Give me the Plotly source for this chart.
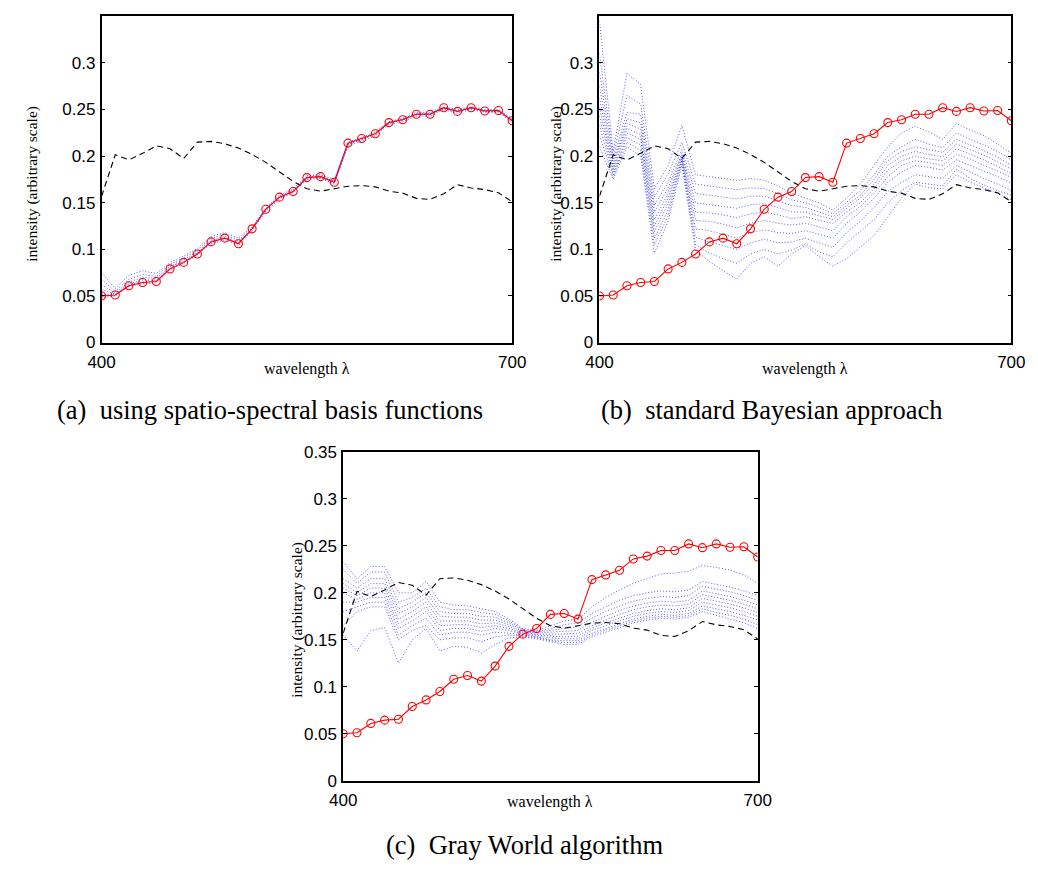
import plotly.graph_objects as go

# ---------------- data ----------------
wavelength = list(range(400, 701, 10))

true_reflectance = [0.050, 0.051, 0.061, 0.0645, 0.0655, 0.079, 0.086, 0.095, 0.108, 0.112,
                    0.106, 0.122, 0.143, 0.156, 0.162, 0.177, 0.178, 0.172, 0.214, 0.219,
                    0.224, 0.236, 0.239, 0.245, 0.245, 0.252, 0.248, 0.252, 0.2485, 0.249, 0.238]

illuminant = [0.157, 0.2015, 0.196, 0.203, 0.211, 0.208, 0.1975, 0.215, 0.2158, 0.2133,
              0.2087, 0.2018, 0.1933, 0.1834, 0.1729, 0.165, 0.1624, 0.165, 0.1677, 0.1684,
              0.167, 0.1624, 0.1603, 0.1547, 0.1536, 0.1596, 0.1694, 0.1659, 0.1641, 0.1607, 0.151]

# (a) spatio-spectral basis estimates, one list per estimate
est_a = [
    [0.075, 0.058, 0.072, 0.077, 0.074, 0.086, 0.093, 0.101, 0.114, 0.118, 0.112, 0.124, 0.145, 0.158, 0.165, 0.179,
     0.180, 0.175, 0.215, 0.220, 0.226, 0.237, 0.241, 0.247, 0.247, 0.253, 0.250, 0.253, 0.250, 0.250, 0.240],
    [0.068, 0.055, 0.068, 0.073, 0.071, 0.084, 0.091, 0.099, 0.112, 0.116, 0.110, 0.123, 0.144, 0.157, 0.164, 0.178,
     0.179, 0.174, 0.214, 0.219, 0.225, 0.236, 0.240, 0.246, 0.246, 0.252, 0.249, 0.252, 0.249, 0.249, 0.239],
    [0.062, 0.053, 0.065, 0.070, 0.069, 0.082, 0.089, 0.097, 0.110, 0.114, 0.108, 0.122, 0.143, 0.156, 0.163, 0.177,
     0.178, 0.173, 0.213, 0.218, 0.224, 0.235, 0.239, 0.245, 0.245, 0.251, 0.248, 0.251, 0.248, 0.248, 0.238],
    [0.057, 0.052, 0.063, 0.067, 0.067, 0.081, 0.087, 0.096, 0.109, 0.113, 0.107, 0.122, 0.143, 0.156, 0.162, 0.177,
     0.178, 0.172, 0.213, 0.218, 0.224, 0.236, 0.239, 0.245, 0.245, 0.252, 0.248, 0.252, 0.249, 0.249, 0.238],
    [0.052, 0.051, 0.062, 0.065, 0.066, 0.080, 0.086, 0.095, 0.108, 0.112, 0.106, 0.122, 0.143, 0.155, 0.162, 0.176,
     0.177, 0.171, 0.213, 0.218, 0.224, 0.236, 0.239, 0.245, 0.245, 0.251, 0.248, 0.251, 0.248, 0.248, 0.238],
    [0.048, 0.050, 0.060, 0.063, 0.064, 0.078, 0.085, 0.094, 0.106, 0.110, 0.104, 0.120, 0.141, 0.154, 0.161, 0.175,
     0.176, 0.170, 0.211, 0.216, 0.222, 0.234, 0.237, 0.243, 0.243, 0.250, 0.246, 0.250, 0.247, 0.247, 0.236],
]

# (b) standard Bayesian estimates, one row per wavelength (10 estimates each)
est_b_rows = [
    [0.345, 0.31, 0.29, 0.275, 0.262, 0.252, 0.243, 0.233, 0.222, 0.21],
    [0.205, 0.2, 0.196, 0.192, 0.189, 0.186, 0.183, 0.18, 0.178, 0.175],
    [0.289, 0.265, 0.247, 0.24, 0.235, 0.23, 0.225, 0.22, 0.215, 0.21],
    [0.277, 0.256, 0.245, 0.236, 0.229, 0.223, 0.218, 0.212, 0.206, 0.2],
    [0.165, 0.156, 0.147, 0.14, 0.132, 0.125, 0.119, 0.112, 0.105, 0.096],
    [0.19, 0.181, 0.172, 0.166, 0.16, 0.155, 0.149, 0.142, 0.136, 0.13],
    [0.233, 0.215, 0.207, 0.203, 0.201, 0.199, 0.197, 0.196, 0.194, 0.19],
    [0.18, 0.17, 0.16, 0.15, 0.14, 0.131, 0.122, 0.113, 0.105, 0.099],
    [0.178, 0.168, 0.158, 0.148, 0.139, 0.13, 0.12, 0.108, 0.096, 0.087],
    [0.176, 0.166, 0.156, 0.146, 0.137, 0.127, 0.116, 0.104, 0.09, 0.077],
    [0.174, 0.164, 0.154, 0.144, 0.134, 0.123, 0.112, 0.1, 0.085, 0.068],
    [0.176, 0.166, 0.157, 0.148, 0.138, 0.128, 0.118, 0.107, 0.095, 0.085],
    [0.174, 0.165, 0.157, 0.149, 0.14, 0.131, 0.121, 0.111, 0.1, 0.092],
    [0.168, 0.16, 0.152, 0.145, 0.137, 0.128, 0.118, 0.107, 0.095, 0.082],
    [0.16, 0.153, 0.147, 0.14, 0.133, 0.126, 0.117, 0.108, 0.099, 0.095],
    [0.155, 0.15, 0.145, 0.14, 0.135, 0.128, 0.12, 0.112, 0.106, 0.104],
    [0.15, 0.145, 0.14, 0.136, 0.131, 0.124, 0.116, 0.107, 0.097, 0.092],
    [0.142, 0.138, 0.135, 0.132, 0.128, 0.12, 0.112, 0.102, 0.092, 0.082],
    [0.155, 0.15, 0.147, 0.144, 0.14, 0.135, 0.128, 0.118, 0.107, 0.09],
    [0.17, 0.163, 0.158, 0.155, 0.15, 0.146, 0.14, 0.13, 0.12, 0.102],
    [0.19, 0.18, 0.175, 0.17, 0.165, 0.16, 0.155, 0.145, 0.132, 0.115],
    [0.21, 0.2, 0.195, 0.19, 0.185, 0.178, 0.172, 0.162, 0.15, 0.135],
    [0.225, 0.21, 0.205, 0.2, 0.195, 0.19, 0.183, 0.172, 0.163, 0.155],
    [0.232, 0.218, 0.21, 0.205, 0.2, 0.195, 0.19, 0.18, 0.172, 0.17],
    [0.226, 0.213, 0.207, 0.202, 0.197, 0.193, 0.188, 0.178, 0.17, 0.166],
    [0.218, 0.209, 0.204, 0.199, 0.195, 0.19, 0.185, 0.176, 0.168, 0.165],
    [0.235, 0.225, 0.218, 0.213, 0.208, 0.202, 0.196, 0.19, 0.186, 0.18],
    [0.228, 0.218, 0.212, 0.207, 0.202, 0.197, 0.19, 0.183, 0.176, 0.172],
    [0.222, 0.212, 0.206, 0.201, 0.196, 0.19, 0.184, 0.176, 0.169, 0.166],
    [0.213, 0.205, 0.199, 0.194, 0.189, 0.184, 0.178, 0.17, 0.163, 0.16],
    [0.203, 0.196, 0.19, 0.186, 0.181, 0.177, 0.171, 0.163, 0.158, 0.153],
]

# (c) Gray World estimates, one row per wavelength (10 estimates each)
est_c_rows = [
    [0.233, 0.225, 0.215, 0.21, 0.205, 0.2, 0.19, 0.18, 0.165, 0.155],
    [0.215, 0.21, 0.205, 0.2, 0.197, 0.193, 0.19, 0.185, 0.18, 0.138],
    [0.228, 0.222, 0.215, 0.21, 0.205, 0.2, 0.195, 0.19, 0.185, 0.16],
    [0.228, 0.222, 0.215, 0.21, 0.205, 0.2, 0.195, 0.19, 0.185, 0.163],
    [0.2, 0.19, 0.183, 0.178, 0.172, 0.167, 0.162, 0.155, 0.15, 0.125],
    [0.2, 0.195, 0.19, 0.185, 0.18, 0.175, 0.17, 0.165, 0.16, 0.15],
    [0.212, 0.205, 0.2, 0.195, 0.19, 0.185, 0.18, 0.173, 0.165, 0.162],
    [0.19, 0.185, 0.18, 0.175, 0.17, 0.165, 0.16, 0.155, 0.15, 0.138],
    [0.187, 0.182, 0.178, 0.174, 0.17, 0.166, 0.162, 0.158, 0.152, 0.143],
    [0.186, 0.182, 0.178, 0.174, 0.17, 0.166, 0.162, 0.158, 0.152, 0.142],
    [0.183, 0.179, 0.175, 0.171, 0.167, 0.163, 0.159, 0.155, 0.148, 0.136],
    [0.18, 0.177, 0.174, 0.171, 0.168, 0.165, 0.162, 0.158, 0.153, 0.145],
    [0.172, 0.17, 0.168, 0.166, 0.164, 0.162, 0.16, 0.157, 0.155, 0.152],
    [0.162, 0.161, 0.16, 0.159, 0.158, 0.157, 0.156, 0.155, 0.154, 0.153],
    [0.16, 0.159, 0.158, 0.157, 0.156, 0.155, 0.154, 0.153, 0.152, 0.151],
    [0.165, 0.162, 0.16, 0.158, 0.156, 0.154, 0.152, 0.15, 0.149, 0.148],
    [0.17, 0.166, 0.162, 0.159, 0.156, 0.153, 0.151, 0.149, 0.147, 0.145],
    [0.172, 0.168, 0.164, 0.16, 0.157, 0.154, 0.151, 0.149, 0.147, 0.145],
    [0.185, 0.178, 0.173, 0.169, 0.165, 0.162, 0.16, 0.157, 0.155, 0.153],
    [0.195, 0.185, 0.18, 0.175, 0.171, 0.168, 0.165, 0.162, 0.16, 0.158],
    [0.203, 0.192, 0.186, 0.181, 0.177, 0.173, 0.17, 0.167, 0.165, 0.163],
    [0.21, 0.197, 0.191, 0.186, 0.182, 0.178, 0.175, 0.172, 0.17, 0.168],
    [0.215, 0.2, 0.194, 0.189, 0.185, 0.181, 0.178, 0.175, 0.173, 0.171],
    [0.22, 0.202, 0.196, 0.191, 0.187, 0.183, 0.18, 0.177, 0.175, 0.173],
    [0.221, 0.201, 0.195, 0.19, 0.186, 0.182, 0.179, 0.176, 0.174, 0.172],
    [0.223, 0.203, 0.197, 0.192, 0.188, 0.184, 0.181, 0.178, 0.176, 0.174],
    [0.229, 0.212, 0.207, 0.202, 0.198, 0.194, 0.19, 0.186, 0.183, 0.18],
    [0.227, 0.209, 0.204, 0.199, 0.195, 0.191, 0.187, 0.183, 0.179, 0.176],
    [0.224, 0.206, 0.201, 0.196, 0.192, 0.188, 0.184, 0.18, 0.176, 0.172],
    [0.219, 0.202, 0.197, 0.192, 0.188, 0.184, 0.18, 0.176, 0.172, 0.168],
    [0.21, 0.197, 0.192, 0.187, 0.183, 0.179, 0.175, 0.171, 0.166, 0.162],
]

y_ticks_ab = [0, 0.05, 0.1, 0.15, 0.2, 0.25, 0.3]
y_ticks_c = [0, 0.05, 0.1, 0.15, 0.2, 0.25, 0.3, 0.35]
x_ticks = [400, 700]
captions = ["(a)\u00a0\u00a0using spatio-spectral basis functions",
            "(b)\u00a0\u00a0standard Bayesian approach",
            "(c)\u00a0\u00a0Gray World algorithm"]
y_title = "intensity (arbitrary scale)"
x_title = "wavelength \u03bb"

# ---------------- figure ----------------
W, H = 1038, 869
SERIF = "Liberation Serif, Times New Roman, serif"
SANS = "Liberation Sans, Arial, sans-serif"

est_b = [list(col) for col in zip(*est_b_rows)]
est_c = [list(col) for col in zip(*est_c_rows)]

# pixel boxes: left, right, top, bottom
boxes = [(90, 512, 7.5, 341), (601.7, 1025, 7.5, 341), (338.3, 764.3, 452.7, 789)]
ytitle_x = [19, 557.5, 291.5]
xtitle_y = [368, 368, 811]
panels = [("x", "y", est_a, y_ticks_ab), ("x2", "y2", est_b, y_ticks_ab), ("x3", "y3", est_c, y_ticks_c)]

fig = go.Figure()
for xa, ya, est, _ in panels:
    for s in est:
        fig.add_trace(go.Scatter(x=wavelength, y=s, mode="lines", xaxis=xa, yaxis=ya,
                                 line=dict(color="rgba(20,20,255,0.7)", width=1, dash="1px,2px"),
                                 showlegend=False, hoverinfo="skip"))
    fig.add_trace(go.Scatter(x=wavelength, y=illuminant, mode="lines", xaxis=xa, yaxis=ya,
                             line=dict(color="black", width=1.1, dash="6px,4px"),
                             showlegend=False, hoverinfo="skip"))
    fig.add_trace(go.Scatter(x=wavelength, y=true_reflectance, mode="lines+markers", xaxis=xa, yaxis=ya,
                             line=dict(color="red", width=1.1),
                             marker=dict(symbol="circle-open", size=8, color="red", line=dict(width=1.1)),
                             showlegend=False, hoverinfo="skip"))

layout = dict(width=W, height=H, margin=dict(l=0, r=0, t=0, b=0),
              paper_bgcolor="white", plot_bgcolor="white", showlegend=False)
annotations = []
for i, ((xa, ya, est, yt), (l, r, t, b)) in enumerate(zip(panels, boxes)):
    xkey = "xaxis" if i == 0 else f"xaxis{i+1}"
    ykey = "yaxis" if i == 0 else f"yaxis{i+1}"
    common = dict(showline=True, linecolor="black", linewidth=1.5, mirror="ticks",
                  ticks="inside", ticklen=4, tickwidth=1, tickcolor="black",
                  showgrid=False, zeroline=False,
                  tickfont=dict(family=SANS, size=17, color="black"))
    layout[xkey] = dict(common, domain=[l / W, r / W], range=[400, 700],
                        tickvals=x_ticks, ticktext=[str(v) for v in x_ticks],
                        anchor=ya, ticklabelstandoff=3)
    layout[ykey] = dict(common, domain=[1 - b / H, 1 - t / H], range=[0, 0.35],
                        tickvals=yt, ticktext=[f"{v:g}" for v in yt], anchor=xa,
                        ticklabelstandoff=1)
    cx = (l + r) / 2
    annotations.append(dict(text=x_title, xref="paper", yref="paper", x=cx / W, y=1 - xtitle_y[i] / H,
                            xanchor="center", yanchor="middle", showarrow=False,
                            font=dict(family=SERIF, size=16, color="black")))
    annotations.append(dict(text=y_title, xref="paper", yref="paper", x=ytitle_x[i] / W,
                            y=1 - ((t + b) / 2 + 4) / H,
                            xanchor="center", yanchor="middle", showarrow=False, textangle=-90,
                            font=dict(family=SERIF, size=15.5, color="black")))

cap_pos = [(263, 410), (778, 410), (525, 855)]
for txt, (cx, cy) in zip(captions, cap_pos):
    annotations.append(dict(text=txt, xref="paper", yref="paper", x=cx / W, y=1 - cy / H,
                            xanchor="center", yanchor="middle", showarrow=False,
                            font=dict(family=SERIF, size=26.5, color="black")))
layout["annotations"] = annotations
fig.update_layout(**layout)
fig.write_html("out.html")
